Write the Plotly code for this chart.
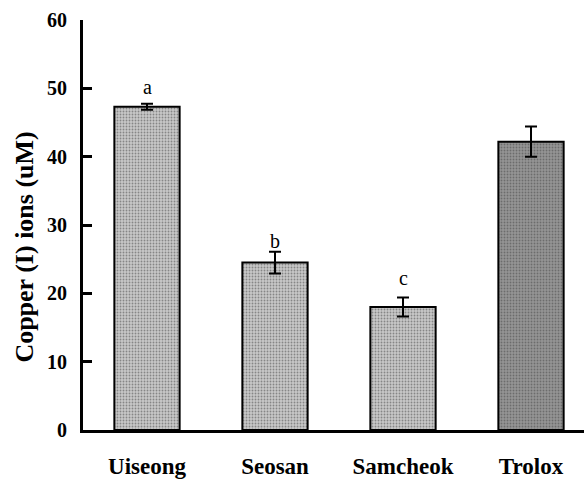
import plotly.graph_objects as go

categories = ["Uiseong", "Seosan", "Samcheok", "Trolox"]
values = [47.3, 24.5, 18.0, 42.2]
errors = [0.45, 1.6, 1.4, 2.2]
letters = ["a", "b", "c", ""]
letter_y = [50.2, 27.6, 22.2, None]
bar_colors = ["#c8c8c8", "#c8c8c8", "#c8c8c8", "#959595"]
pattern_fg = ["#a4a4a4", "#a4a4a4", "#a4a4a4", "#666666"]
y_ticks = [0, 10, 20, 30, 40, 50, 60]
y_title = "Copper (I) ions (uM)"

fig = go.Figure()
fig.add_trace(go.Bar(
    x=list(range(len(categories))),
    y=values,
    width=0.51,
    marker=dict(
        color=bar_colors,
        line=dict(color="black", width=2),
        pattern=dict(shape=".", fgcolor=pattern_fg, size=3, solidity=0.3, fillmode="overlay"),
    ),
    error_y=dict(type="data", array=errors, visible=True, color="black", thickness=2, width=6),
    showlegend=False,
))

for i, (lab, ly) in enumerate(zip(letters, letter_y)):
    if lab:
        fig.add_annotation(x=i, y=ly, text=lab, showarrow=False,
                           font=dict(family="Liberation Serif", size=20, color="black"),
                           xanchor="center", yanchor="middle")

# y-axis title, placed as a rotated annotation to sit where the original does
fig.add_annotation(xref="paper", yref="paper", x=-0.116, y=0.447, text=y_title,
                   textangle=-90, showarrow=False, xanchor="center", yanchor="middle",
                   font=dict(family="Liberation Serif", size=26, color="black", weight="bold"))

fig.update_layout(
    width=584, height=479,
    margin=dict(l=83, r=0, t=20, b=47),
    paper_bgcolor="white", plot_bgcolor="white",
    font=dict(family="Liberation Serif", color="black"),
)
fig.update_xaxes(
    range=[-0.5, 3.414],
    tickmode="array", tickvals=list(range(len(categories))), ticktext=categories,
    tickfont=dict(family="Liberation Serif", size=23, color="black", weight="bold"),
    showline=True, linecolor="black", linewidth=3,
    ticks="", showgrid=False, zeroline=False, ticklabelstandoff=13,
)
fig.update_yaxes(
    range=[0, 60],
    tickmode="array", tickvals=y_ticks,
    tickfont=dict(family="Liberation Serif", size=20, color="black", weight="bold"),
    showline=True, linecolor="black", linewidth=3,
    ticks="inside", ticklen=9, tickwidth=3, tickcolor="black",
    showgrid=False, zeroline=False, ticklabelstandoff=9,
)

fig.write_html("out.html")
